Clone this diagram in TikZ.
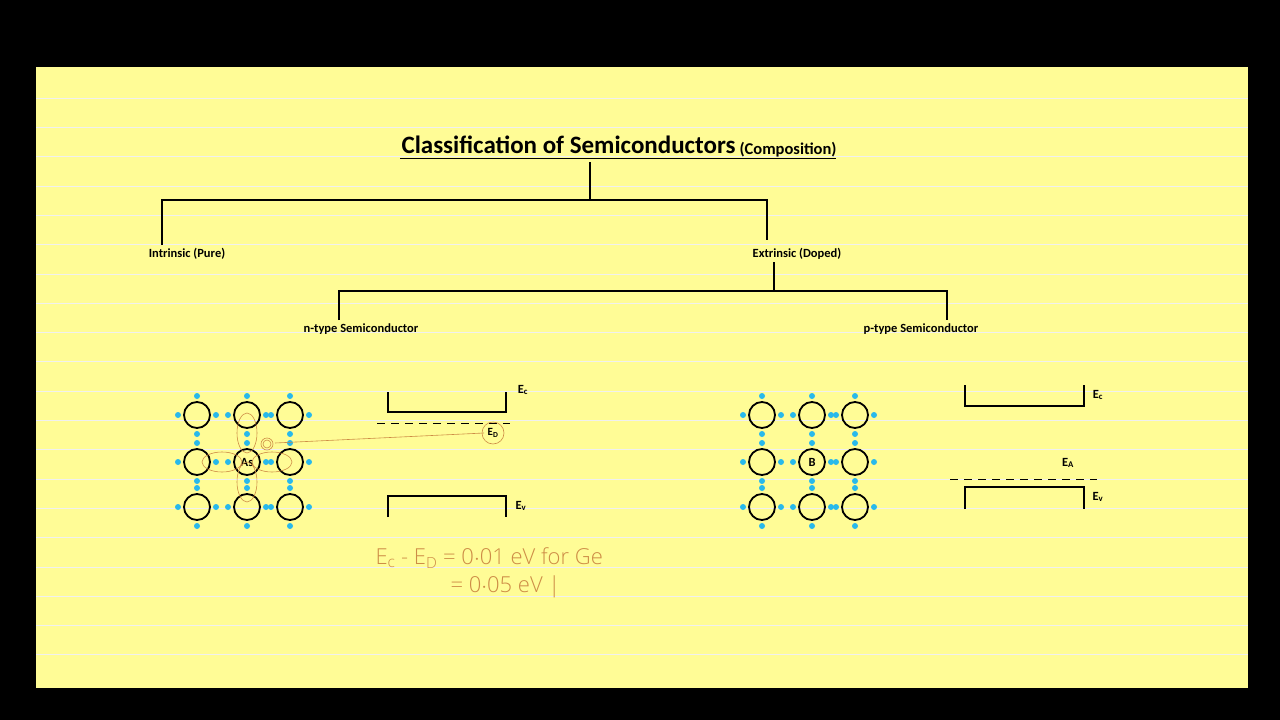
\documentclass[tikz,border=0pt]{standalone}
\usepackage{fontspec}
\setmainfont{Carlito}
\newfontfamily\hand{Open Sans Light}
\begin{document}
\begin{tikzpicture}[x=1pt,y=-1pt,
  lbl/.style={font=\bfseries\fontsize{12.5}{14}\selectfont},
  br/.style={line width=1.6pt},
  band/.style={line width=1.8pt},
  atom/.style={circle,draw,line width=1.8pt,minimum size=26pt,inner sep=0pt,font=\bfseries\fontsize{12.5}{14}\selectfont},
  el/.style={circle,fill=elc,inner sep=0pt,minimum size=6pt},
  ink/.style={draw=inkc,line width=0.6pt},
  hw/.style={text=inkc,font=\hand\fontsize{22}{24}\selectfont}]
\definecolor{paper}{RGB}{255,252,150}
\definecolor{elc}{RGB}{40,185,235}
\definecolor{inkc}{RGB}{205,140,70}
\fill[black] (0,0) rectangle (1280,720);
\fill[paper] (36,67) rectangle (1248,688);
\foreach \k in {0,...,19} \draw[gray!12,line width=0.5pt] (36,98+29.3*\k) -- (1248,98+29.3*\k);
\useasboundingbox (0,0) rectangle (1280,720);
% tree
\node[font=\bfseries\fontsize{25}{28}\selectfont,anchor=west] (title) at (398,145) {Classification of Semiconductors};
\node[font=\bfseries\fontsize{16.5}{18}\selectfont,anchor=west] (comp) at (736,150) {(Composition)};
\draw[line width=0.8pt] (400,158) -- (836,158);
\coordinate (t0) at (590,162); \coordinate (t1) at (590,199);
\draw[br] (t0) -- (t1);
\coordinate (hL) at (162,200); \coordinate (hR) at (767,200);
\draw[br] (162,245) -- (hL) -- (hR) -- (767,240);
\node[lbl] (intr) at (187,254) {Intrinsic (Pure)};
\node[lbl] (extr) at (797,254) {Extrinsic (Doped)};
\coordinate (e0) at (774,262); \coordinate (e1) at (774,291);
\draw[br] (e0) -- (e1);
\draw[br] (339,320) -- (339,291) -- (947,291) -- (947,320);
\node[lbl] (nt) at (361,329) {n-type Semiconductor};
\node[lbl] (pt) at (921,329) {p-type Semiconductor};
% lattices
\foreach \ox/\lab in {0/As,565/B}{
 \foreach \x [count=\i] in {197,247,290}{
  \foreach \y [count=\j] in {415,462,507}{
   \pgfmathsetmacro\xx{\x+\ox}
   \foreach \dx/\dy in {19/0,-19/0,0/19,0/-19} \node[el] at (\xx+\dx,\y+\dy) {};
   \ifnum\i=2 \ifnum\j=2
     \node[atom,fill=paper] (c\ox\i\j) at (\xx,\y) {\lab};
   \else \node[atom] (c\ox\i\j) at (\xx,\y) {}; \fi
   \else \node[atom] (c\ox\i\j) at (\xx,\y) {}; \fi
  }}}
% n-type band
\draw[band] (388,392) -- (388,412) -- (506,412) -- (506,392);
\draw[band] (388,517) -- (388,496) -- (506,496) -- (506,517);
\draw[line width=1pt,dash pattern=on 8pt off 6pt] (377,423) -- (510,423);
\node[lbl] (ec1) at (523,390) {E\textsubscript{c}};
\node[lbl] (ev1) at (521,506) {E\textsubscript{v}};
\node[lbl,font=\bfseries\fontsize{11}{12}\selectfont] (ed) at (493,433) {E\textsubscript{D}};
\draw[ink] (ed) circle (11);
\draw[ink] (ed.west) -- (275,443);
\draw[ink] (267,444) circle (6) (267,444) circle (4);
\draw[ink] (247,433) ellipse (10 and 20) (247,482) ellipse (10 and 20)
  (222,462) ellipse (20 and 10) (272,462) ellipse (20 and 10);
\node[hw,anchor=west] (f1) at (372,558) {E\textsubscript{c} - E\textsubscript{D} = 0$\cdot$01 eV for Ge};
\node[hw,anchor=west] (f2) at (447,587) {= 0$\cdot$05 eV |};
% p-type band
\draw[band] (965,385) -- (965,406) -- (1084,406) -- (1084,385);
\draw[band] (965,509) -- (965,487) -- (1084,487) -- (1084,509);
\draw[line width=0.8pt,dash pattern=on 8pt off 6pt] (950,479) -- (1097,479);
\node[lbl] (ec2) at (1098,395) {E\textsubscript{c}};
\node[lbl] (ea) at (1068,463) {E\textsubscript{A}};
\node[lbl] (ev2) at (1098,497) {E\textsubscript{v}};
\end{tikzpicture}
\end{document}
